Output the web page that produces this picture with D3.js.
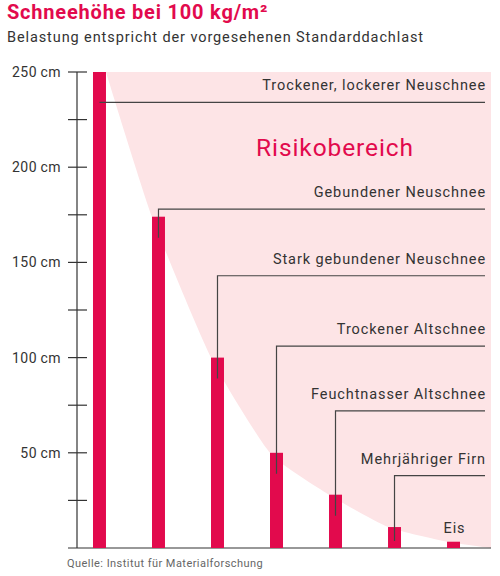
<!DOCTYPE html>
<html>
<head>
<meta charset="utf-8">
<script src="https://cdn.jsdelivr.net/npm/d3@7"></script>
<style>
  body { margin: 0; background: #fff; }
  svg { font-family: Roboto, "Noto Sans", sans-serif; }
</style>
</head>
<body>
<div id="chart"></div>
<script>
// Schneearten und Schneehöhe (cm) bei 100 kg/m²
const categories = ["Trockener, lockerer Neuschnee", "Gebundener Neuschnee", "Stark gebundener Neuschnee",
                    "Trockener Altschnee", "Feuchtnasser Altschnee", "Mehrjähriger Firn", "Eis"];
const heights = [250, 174, 100, 50, 28, 11, 3.3];
// Höhe der Beschriftungslinien (cm)
const labelLevels = [234, 178, 143, 106, 72, 38, null];
const yTicks = [0, 25, 50, 75, 100, 125, 150, 175, 200, 225, 250];
const yLabels = [50, 100, 150, 200, 250];

const width = 500, height = 576;
const red = "#e20a4d", pink = "#fde4e6", ink = "#333";

const svg = d3.select("#chart").append("svg")
    .attr("width", width)
    .attr("height", height);

const x = d3.scaleBand()
    .domain(categories)
    .range([77, 476])
    .paddingInner(0.78)
    .paddingOuter(0.271);

const y = d3.scaleLinear()
    .domain([0, 250])
    .range([548, 72]);

const right = 491, lineEnd = 485;

// Risikobereich: Fläche oberhalb der Kurve durch die Balkenspitzen
const curvePts = categories.map(function(c, i) {
    return [i === 0 ? x(c) + x.bandwidth() : x(c), heights[i]];
});
curvePts.push([right, 0]);

const area = d3.area()
    .x(function(d) { return d[0]; })
    .y0(y(250))
    .y1(function(d) { return y(d[1]); })
    .curve(d3.curveCardinal.tension(0.45));

svg.append("path")
    .attr("d", area(curvePts))
    .attr("fill", pink);

svg.append("text")
    .attr("x", 335)
    .attr("y", 156)
    .attr("text-anchor", "middle")
    .attr("fill", red)
    .attr("font-size", 24.5)
    .attr("letter-spacing", 0.9)
    .text("Risikobereich");

// Achse
const axis = svg.append("g");
axis.append("line")
    .attr("x1", 77).attr("x2", 77)
    .attr("y1", y(250)).attr("y2", y(0))
    .attr("stroke", ink).attr("stroke-width", 1.2);

axis.selectAll(".tick")
    .data(yTicks.filter(function(d) { return d > 0; }))
    .enter().append("line")
    .attr("x1", 68).attr("x2", 87)
    .attr("y1", function(d) { return y(d); })
    .attr("y2", function(d) { return y(d); })
    .attr("stroke", ink).attr("stroke-width", 1.2);

axis.selectAll(".lbl")
    .data(yLabels)
    .enter().append("text")
    .attr("x", 61)
    .attr("y", function(d) { return y(d) + 5; })
    .attr("text-anchor", "end")
    .attr("font-size", 14)
    .attr("letter-spacing", 0.5)
    .attr("fill", ink)
    .text(function(d) { return d + "\u2009cm"; });

// Grundlinie
svg.append("line")
    .attr("x1", 68).attr("x2", right)
    .attr("y1", y(0)).attr("y2", y(0))
    .attr("stroke", ink).attr("stroke-width", 1.2);

// Balken
svg.selectAll(".bar")
    .data(heights)
    .enter().append("rect")
    .attr("x", function(d, i) { return x(categories[i]); })
    .attr("y", function(d) { return y(d); })
    .attr("width", x.bandwidth())
    .attr("height", function(d) { return y(0) - y(d); })
    .attr("fill", red);

// Beschriftungslinien
const leaders = svg.append("g");
categories.forEach(function(c, i) {
    const cx = x(c) + x.bandwidth() / 2;
    if (labelLevels[i] === null) {
        leaders.append("text")
            .attr("x", cx + 1)
            .attr("y", y(heights[i]) - 9)
            .attr("text-anchor", "middle")
            .attr("font-size", 14.5)
            .attr("letter-spacing", 0.9)
            .attr("fill", ink)
            .text(c);
        return;
    }
    const ly = y(labelLevels[i]);
    const bottom = i === 0 ? ly : Math.min(y(heights[i]) + 21, y(0) - 7);
    leaders.append("path")
        .attr("d", "M" + cx + "," + bottom + "V" + ly + "H" + lineEnd)
        .attr("fill", "none")
        .attr("stroke", "#444")
        .attr("stroke-width", 1.2);
    leaders.append("text")
        .attr("x", lineEnd + 1)
        .attr("y", ly - 12)
        .attr("text-anchor", "end")
        .attr("font-size", 14.5)
        .attr("letter-spacing", 0.9)
        .attr("fill", ink)
        .text(c);
});

// Titel
svg.append("text")
    .attr("x", 7).attr("y", 19)
    .attr("font-size", 20)
    .attr("font-weight", "bold")
    .attr("letter-spacing", 0.8)
    .attr("fill", red)
    .text("Schneehöhe bei 100 kg/m²");

svg.append("text")
    .attr("x", 7).attr("y", 42)
    .attr("font-size", 14.5)
    .attr("letter-spacing", 0.9)
    .attr("fill", ink)
    .text("Belastung entspricht der vorgesehenen Standarddachlast");

svg.append("text")
    .attr("x", 67).attr("y", 567)
    .attr("font-size", 11)
    .attr("letter-spacing", 0.45)
    .attr("fill", "#666")
    .text("Quelle: Institut für Materialforschung");
</script>
</body>
</html>
